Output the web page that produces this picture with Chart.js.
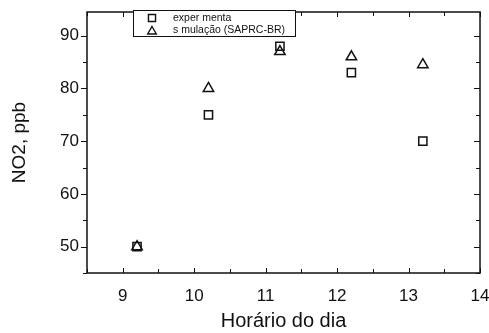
<!DOCTYPE html>
<html>
<head>
<meta charset="utf-8">
<script src="https://cdn.jsdelivr.net/npm/chart.js@4/dist/chart.umd.min.js"></script>
<style>
  html, body { margin: 0; padding: 0; background: #fff; }
  #wrap { width: 489px; height: 333px; position: relative; }
</style>
</head>
<body>
<div id="wrap"><canvas id="c"></canvas></div>
<script>
// data
const hours = [9.2, 10.2, 11.2, 12.2, 13.2];
const experimental = [50, 75, 88, 83, 70];
const simulacao = [50, 80, 87, 86, 84.5];
const xTicks = [9, 10, 11, 12, 13, 14];
const yTicks = [50, 60, 70, 80, 90];
const xMinor = [8.5, 9.5, 10.5, 11.5, 12.5, 13.5];
const yMinor = [45, 55, 65, 75, 85];
const legendLabels = ['exper menta', 's mulação (SAPRC-BR)'];

const ink = '#111';

// axes frame, inward/outward tick marks, boxed legend
const framePlugin = {
    id: 'frame',
    afterDraw(chart) {
        const ctx = chart.ctx;
        const { left, right, top, bottom } = chart.chartArea;
        const xs = chart.scales.x, ys = chart.scales.y;
        ctx.save();
        ctx.strokeStyle = ink;
        ctx.lineWidth = 1.5;
        ctx.strokeRect(left, top, right - left, bottom - top);

        ctx.lineWidth = 1;
        ctx.beginPath();
        xTicks.concat(xMinor).forEach(v => {
            const px = Math.round(xs.getPixelForValue(v)) + 0.5;
            const len = xTicks.includes(v) ? 5 : 4;
            ctx.moveTo(px, bottom); ctx.lineTo(px, bottom - len);
            ctx.moveTo(px, top); ctx.lineTo(px, top + len);
        });
        yTicks.concat(yMinor).forEach(v => {
            const py = Math.round(ys.getPixelForValue(v)) + 0.5;
            const len = yTicks.includes(v) ? 6 : 4;
            ctx.moveTo(left, py); ctx.lineTo(left - len, py);
            ctx.moveTo(right, py); ctx.lineTo(right - len, py);
        });
        ctx.stroke();

        // legend box
        const bx = 133, by = 10.5, bw = 162, bh = 26;
        ctx.fillStyle = '#fff';
        ctx.fillRect(bx, by, bw, bh);
        ctx.lineWidth = 1;
        ctx.strokeRect(bx + 0.5, by, bw, bh);
        const styles = ['rect', 'triangle'];
        ctx.font = '10.5px "Liberation Sans", Arial, sans-serif';
        ctx.textBaseline = 'middle';
        legendLabels.forEach((t, i) => {
            const cy = by + 7.5 + i * 12.5;
            ctx.strokeStyle = ink;
            ctx.fillStyle = 'rgba(0,0,0,0)';
            ctx.lineWidth = 1.4;
            Chart.helpers.drawPoint(ctx, { pointStyle: styles[i], radius: 5, rotation: 0, borderWidth: 1.4 }, 152, cy + (i ? 1 : 0));
            ctx.fillStyle = ink;
            ctx.fillText(t, 173, cy);
        });
        ctx.restore();
    }
};

new Chart(document.getElementById('c'), {
    type: 'scatter',
    data: {
        datasets: [
            { label: legendLabels[0], data: hours.map((h, i) => ({ x: h, y: experimental[i] })),
              pointStyle: 'rect', pointRadius: 5.8, borderColor: ink, backgroundColor: 'rgba(0,0,0,0)', borderWidth: 1.5 },
            { label: legendLabels[1], data: hours.map((h, i) => ({ x: h, y: simulacao[i] })),
              pointStyle: 'triangle', pointRadius: 6, borderColor: ink, backgroundColor: 'rgba(0,0,0,0)', borderWidth: 1.5 }
        ]
    },
    options: {
        responsive: true, maintainAspectRatio: false, animation: false,
        layout: { padding: { top: 12, right: 9, left: 0, bottom: 0 } },
        plugins: { legend: { display: false }, tooltip: { enabled: false } },
        scales: {
            x: {
                type: 'linear', min: 8.5, max: 14,
                grid: { display: false, drawTicks: false }, border: { display: false },
                afterBuildTicks: s => { s.ticks = xTicks.map(v => ({ value: v })); },
                afterFit: s => { s.height = 60; s.paddingLeft = 0; s.paddingRight = 0; },
                ticks: { color: ink, padding: 13, maxRotation: 0, font: { family: '"Liberation Sans", Arial, sans-serif', size: 17 } },
                title: { display: true, text: 'Horário do dia', color: ink, padding: { top: 0, bottom: 0 },
                         font: { family: '"Liberation Sans", Arial, sans-serif', size: 20 } }
            },
            y: {
                type: 'linear', min: 45, max: 94.5,
                grid: { display: false, drawTicks: false }, border: { display: false },
                afterBuildTicks: s => { s.ticks = yTicks.map(v => ({ value: v })); },
                afterFit: s => { s.width = 87; s.paddingTop = 0; s.paddingBottom = 0; },
                ticks: { color: ink, padding: 8, font: { family: '"Liberation Sans", Arial, sans-serif', size: 17 } },
                title: { display: true, text: 'NO2, ppb', color: ink, padding: { top: 8, bottom: 0 },
                         font: { family: '"Liberation Sans", Arial, sans-serif', size: 19 } }
            }
        }
    },
    plugins: [framePlugin]
});
</script>
</body>
</html>
